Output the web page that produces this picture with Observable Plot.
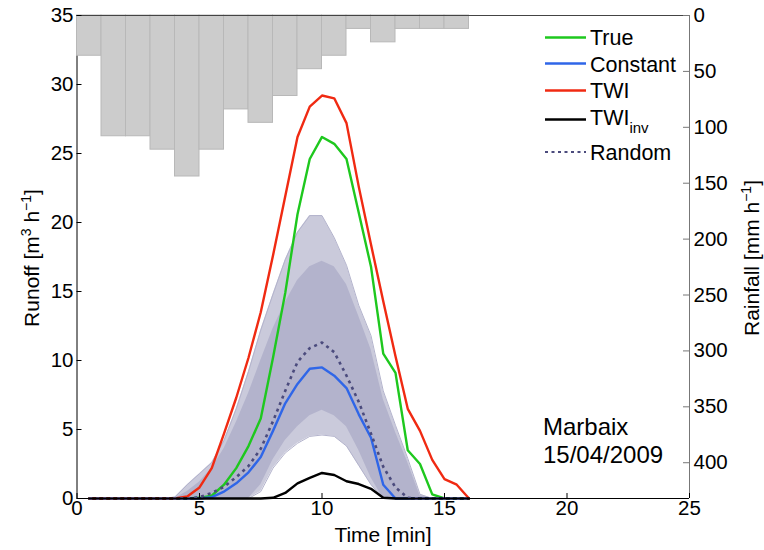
<!DOCTYPE html>
<html>
<head>
<meta charset="utf-8">
<script src="https://cdn.jsdelivr.net/npm/d3@7"></script>
<script src="https://cdn.jsdelivr.net/npm/@observablehq/plot@0.6"></script>
<style>
  body { margin: 0; background: #fff; }
  #chart svg { display: block; }
</style>
</head>
<body>
<div id="chart"></div>
<script>
// ---- data ----
const time = [0.5,1,1.5,2,2.5,3,3.5,4,4.5,5,5.5,6,6.5,7,7.5,8,8.5,9,9.5,10,10.5,11,11.5,12,12.5,13,13.5,14,14.5,15,15.5,16];

const trueRunoff = [0,0,0,0,0,0,0,0, 0,0.05,0.2,1.0,2.2,3.8,5.8,10.2,14.9,20.6,24.6,26.2,25.7,24.6,20.7,16.8,10.5,9.1,3.5,2.5,0.3,0,0,0];
const constantRunoff = [0,0,0,0,0,0,0,0, 0,0,0.1,0.5,1.1,1.9,3.0,4.9,6.9,8.3,9.4,9.5,8.9,8.0,6.1,4.4,1.0,0,0,0,0,0,0,0];
const twiRunoff = [0,0,0,0,0,0,0,0, 0.15,0.8,2.2,4.7,7.3,10.2,13.5,17.6,21.9,26.2,28.4,29.2,29.0,27.2,22.6,18.4,14.3,10.3,6.5,4.9,2.8,1.4,1.0,0];
const twiInvRunoff = [0,0,0,0,0,0,0,0,0,0,0,0,0,0,0, 0.05,0.4,1.1,1.5,1.85,1.7,1.25,1.05,0.7,0.05,0,0,0,0,0,0,0];
const randomMean = [0,0,0,0,0,0,0,0,0, 0.1,0.4,0.85,1.55,2.35,3.6,5.6,7.8,9.9,10.9,11.3,10.6,8.9,7.0,4.7,2.3,0.8,0.05,0,0,0,0,0];

// envelope of the random realisations (outer = sparse lines, core = dense bundle)
const ensembleMax = [0,0,0,0,0,0,0, 0.1,1.0,1.8,2.6,4.2,6.5,9.2,12.2,14.8,17.3,19.3,20.5,20.5,18.9,16.9,14.0,11.8,7.8,5.3,2.9,0.3,0,0,0,0];
const ensembleMin = [0,0,0,0,0,0,0,0,0,0,0,0,0,0, 0.5,2.2,3.3,4.0,4.5,4.6,4.5,3.8,2.4,1.0,0, 0,0,0,0,0,0,0];
const coreMax = [0,0,0,0,0,0,0, 0,0.5,1.2,2.2,3.6,5.5,7.6,10.0,12.3,14.2,15.8,16.8,17.2,16.8,15.5,13.2,10.8,7.2,4.8,2.6,0.2,0,0,0,0];
const coreMin = [0,0,0,0,0,0,0,0,0,0,0,0,0,0, 1.0,2.8,4.2,5.2,6.0,6.4,6.0,5.2,3.5,1.5,0, 0,0,0,0,0,0,0];

// rainfall hyetograph (mm/h), one bar per minute
const rainStart = [0,1,2,3,4,5,6,7,8,9,10,11,12,13,14,15];
const rainEnd   = [1,2,3,4,5,6,7,8,9,10,11,12,13,14,15,16];
const rainfall  = [36,108,108,120,144,120,84,96,72,48,36,12,24,12,12,12];

const xTicks = [0,5,10,15,20,25];
const runoffTicks = [0,5,10,15,20,25,30,35];
const rainTicks = [0,50,100,150,200,250,300,350,400];
const RAIN_MAX = 432;
const RUNOFF_MAX = 35;

const legendLabels = ["True", "Constant", "TWI", "TWI", "Random"];
const legendColors = ["#1ec81e", "#2f66e8", "#f02a12", "#000000", "#4b4b7d"];

// ---- scales helper: rainfall axis is reversed and mapped onto runoff scale ----
const rainToY = d3.scaleLinear().domain([0, RAIN_MAX]).range([RUNOFF_MAX, 0]);

const FONT = "'Liberation Sans', Arial, Helvetica, sans-serif";
const ensembleColor = "#b3b3cc";

const W = 764, H = 550, ML = 76.5, MR = 75, MT = 15, MB = 52;
const frameW = W - ML - MR, frameH = H - MT - MB;

const seriesLine = (values, opts) =>
  Plot.line(values, {x: (d, i) => time[i], y: d => d, strokeWidth: 2.4, strokeLinejoin: "round", ...opts});

const chart = Plot.plot({
  width: W,
  height: H,
  marginLeft: ML,
  marginRight: MR,
  marginTop: MT,
  marginBottom: MB,
  x: {domain: [0, 25]},
  y: {domain: [0, RUNOFF_MAX]},
  style: {fontFamily: FONT, fontSize: "20.5px", background: "white", color: "black"},
  marks: [
    Plot.ruleX([0], {stroke: "#000"}),
    // rainfall bars (hanging from the top)
    Plot.rect(rainfall, {
      x1: (d, i) => rainStart[i], x2: (d, i) => rainEnd[i],
      y1: () => rainToY(0), y2: d => rainToY(d),
      fill: "#cccccc", stroke: "#b8b8b8", strokeWidth: 1
    }),
    // random ensemble envelope
    Plot.areaY(time, {x: d => d, y1: (d, i) => ensembleMin[i], y2: (d, i) => ensembleMax[i], fill: ensembleColor, fillOpacity: 0.7, curve: "linear"}),
    Plot.areaY(time, {x: d => d, y1: (d, i) => coreMin[i], y2: (d, i) => coreMax[i], fill: ensembleColor, fillOpacity: 1, curve: "linear"}),
    Plot.line(ensembleMax, {x: (d, i) => time[i], y: d => d, stroke: ensembleColor, strokeWidth: 1}),
    Plot.line(ensembleMin, {x: (d, i) => time[i], y: d => d, stroke: ensembleColor, strokeWidth: 1}),
    // frame
    Plot.ruleY([RUNOFF_MAX], {stroke: "#444"}),
    Plot.ruleX([25], {stroke: "#777"}),
    // runoff lines
    seriesLine(trueRunoff, {stroke: legendColors[0]}),
    seriesLine(constantRunoff, {stroke: legendColors[1]}),
    seriesLine(twiRunoff, {stroke: legendColors[2]}),
    seriesLine(twiInvRunoff, {stroke: legendColors[3]}),
    seriesLine(randomMean, {stroke: legendColors[4], strokeDasharray: "3,4", strokeWidth: 2.6, strokeLinecap: "butt"}),
    Plot.ruleY([0], {stroke: "#000", strokeWidth: 1.2}),
    // inward tick marks
    Plot.tickX(xTicks, {x: d => d, insetTop: frameH - 5, stroke: "#000"}),
    Plot.tickY(runoffTicks, {y: d => d, insetRight: frameW - 5, stroke: "#000"}),
    Plot.tickY(rainTicks.map(r => rainToY(r)), {y: d => d, insetLeft: frameW - 6, stroke: "#777"}),
    // axis labels
    Plot.axisX(xTicks, {tickSize: 0, tickPadding: 2, label: null, tickFormat: d => d}),
    Plot.axisY(runoffTicks, {anchor: "left", tickSize: 0, tickPadding: 3.5, label: null, tickFormat: d => d}),
    Plot.axisY(rainTicks.map(r => rainToY(r)), {
      anchor: "right", tickSize: 0, tickPadding: 4, label: null,
      tickFormat: d => Math.round(rainToY.invert(d))
    })
  ]
});

document.getElementById("chart").appendChild(chart);

// ---- text additions: axis titles, legend, annotation ----
const svg = d3.select(chart);
const g = svg.append("g").attr("font-family", FONT).attr("fill", "black").attr("text-anchor", "start");

// left axis title
const lt = g.append("text")
  .attr("transform", "translate(39,258) rotate(-90)")
  .attr("text-anchor", "middle").attr("font-size", 21);
lt.append("tspan").text("Runoff [m");
lt.append("tspan").attr("dy", -8).attr("font-size", 14).text("3");
lt.append("tspan").attr("dy", 8).text(" h");
lt.append("tspan").attr("dy", -8).attr("font-size", 14).text("\u22121");
lt.append("tspan").attr("dy", 8).text("]");

// right axis title
const rt = g.append("text")
  .attr("transform", "translate(759,258) rotate(-90)")
  .attr("text-anchor", "middle").attr("font-size", 21);
rt.append("tspan").text("Rainfall [mm h");
rt.append("tspan").attr("dy", -8).attr("font-size", 14).text("\u22121");
rt.append("tspan").attr("dy", 8).text("]");

// bottom axis title
g.append("text").attr("x", 383).attr("y", 542).attr("text-anchor", "middle")
  .attr("font-size", 21).text("Time [min]");

// annotation
g.append("text").attr("x", 543).attr("y", 435).attr("font-size", 24).attr("text-anchor", "start").text("Marbaix");
g.append("text").attr("x", 543).attr("y", 463).attr("font-size", 24).attr("text-anchor", "start").text("15/04/2009");

// legend
const legendBase = [45, 71.7, 98.3, 125, 160];
const legendLineY = [37.5, 63.5, 90.5, 119.5, 152];
legendLabels.forEach((lab, i) => {
  const line = g.append("line")
    .attr("x1", 545).attr("x2", 586)
    .attr("y1", legendLineY[i]).attr("y2", legendLineY[i])
    .attr("stroke", legendColors[i]).attr("stroke-width", 2.4);
  if (i === 4) line.attr("stroke-dasharray", "3,3.5").attr("stroke-width", 2.2);
  const t = g.append("text").attr("x", 590).attr("y", legendBase[i])
    .attr("font-size", 21.5).attr("text-anchor", "start").text(lab);
  if (i === 3) t.append("tspan").attr("dy", 8).attr("font-size", 15).text("inv");
});
</script>
</body>
</html>
